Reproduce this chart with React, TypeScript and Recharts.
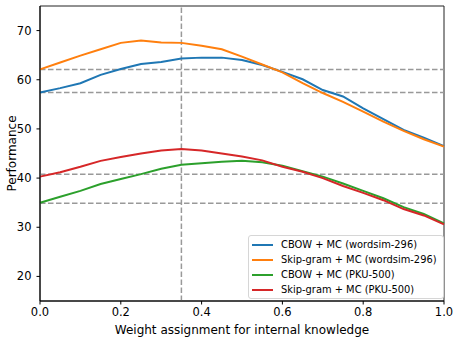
import React from "react";
import {
  LineChart,
  Line,
  XAxis,
  YAxis,
  ReferenceLine,
  ReferenceArea,
  Label,
} from "recharts";

const weights = [0, 0.05, 0.1, 0.15, 0.2, 0.25, 0.3, 0.35, 0.4, 0.45, 0.5, 0.55, 0.6, 0.65, 0.7, 0.75, 0.8, 0.85, 0.9, 0.95, 1.0];
const cbowWordsim = [57.4, 58.3, 59.3, 61.0, 62.2, 63.2, 63.6, 64.3, 64.5, 64.5, 64.0, 63.0, 61.6, 60.1, 57.9, 56.6, 54.2, 52.0, 49.8, 48.2, 46.5];
const skipWordsim = [62.1, 63.5, 64.9, 66.2, 67.5, 68.0, 67.6, 67.5, 66.9, 66.2, 64.7, 63.1, 61.5, 59.3, 57.3, 55.5, 53.5, 51.5, 49.6, 47.9, 46.4];
const cbowPku = [35.0, 36.2, 37.4, 38.8, 39.8, 40.8, 41.9, 42.7, 43.0, 43.3, 43.5, 43.2, 42.5, 41.4, 40.3, 38.9, 37.4, 35.9, 34.1, 32.7, 30.8];
const skipPku = [40.3, 41.2, 42.3, 43.5, 44.3, 45.0, 45.6, 45.9, 45.6, 45.0, 44.4, 43.6, 42.3, 41.3, 40.0, 38.4, 37.0, 35.5, 33.7, 32.4, 30.6];

const xTicks = [0, 0.2, 0.4, 0.6, 0.8, 1.0];
const yTicks = [20, 30, 40, 50, 60, 70];
const baselines = [62.1, 57.4, 40.8, 34.9];
const bestWeight = 0.35;

const series = [
  { key: "cbowWordsim", name: "CBOW + MC (wordsim-296)", color: "#1f77b4" },
  { key: "skipWordsim", name: "Skip-gram + MC (wordsim-296)", color: "#ff7f0e" },
  { key: "cbowPku", name: "CBOW + MC (PKU-500)", color: "#2ca02c" },
  { key: "skipPku", name: "Skip-gram + MC (PKU-500)", color: "#d62728" },
];

const data = weights.map((w, i) => ({
  w,
  cbowWordsim: cbowWordsim[i],
  skipWordsim: skipWordsim[i],
  cbowPku: cbowPku[i],
  skipPku: skipPku[i],
}));

const font = "'DejaVu Sans', sans-serif";

// legend drawn as an overlay so it doesn't eat plot space
function LegendBox() {
  return (
    <div
      style={{
        position: "absolute",
        left: 248,
        top: 235,
        width: 196,
        boxSizing: "border-box",
        background: "rgba(255,255,255,0.85)",
        border: "1px solid #d6d6d6",
        borderRadius: 3,
        padding: "1px 4px 1px 3px",
        fontFamily: font,
        fontSize: 9.9,
        color: "#000",
      }}
    >
      {series.map((s) => (
        <div key={s.key} style={{ display: "flex", alignItems: "center", height: 15 }}>
          <span style={{ display: "inline-block", width: 21, height: 2, background: s.color, marginRight: 8 }} />
          <span style={{ whiteSpace: "nowrap" }}>{s.name}</span>
        </div>
      ))}
    </div>
  );
}

export default function App() {
  return (
    <div style={{ position: "fixed", left: 0, top: 0, width: 457, height: 340, background: "#fff" }}>
      <LineChart width={457} height={340} data={data} margin={{ top: 6, right: 13, bottom: 0, left: 0 }}>
        <XAxis
          dataKey="w"
          type="number"
          domain={[0, 1]}
          ticks={xTicks}
          tickFormatter={(v: number) => v.toFixed(1)}
          height={39}
          tickSize={3.5}
          tickMargin={3}
          axisLine={{ stroke: "#000", strokeWidth: 1 }}
          tickLine={{ stroke: "#000" }}
          tick={{ fontSize: 11.5, fill: "#000", fontFamily: font }}
        >
          <Label
            value="Weight assignment for internal knowledge"
            position="insideBottom"
            offset={6}
            style={{ fontSize: 12, fill: "#000", fontFamily: font }}
          />
        </XAxis>
        <YAxis
          type="number"
          domain={[15, 75]}
          ticks={yTicks}
          width={40}
          tickSize={3.5}
          tickMargin={5}
          axisLine={{ stroke: "#000", strokeWidth: 1 }}
          tickLine={{ stroke: "#000" }}
          tick={{ fontSize: 11.5, fill: "#000", fontFamily: font }}
        >
          <Label
            value="Performance"
            angle={-90}
            position="insideLeft"
            offset={12}
            style={{ fontSize: 12, fill: "#000", fontFamily: font, textAnchor: "middle" }}
          />
        </YAxis>
        {baselines.map((b) => (
          <ReferenceLine key={b} y={b} stroke="#999" strokeWidth={1.5} strokeDasharray="5.5 2.5" />
        ))}
        <ReferenceLine x={bestWeight} stroke="#999" strokeWidth={1.5} strokeDasharray="5.5 2.5" />
        <ReferenceArea x1={0} x2={1} y1={15} y2={75} fill="none" stroke="#222" strokeWidth={1} />
        {series.map((s) => (
          <Line
            key={s.key}
            dataKey={s.key}
            name={s.name}
            stroke={s.color}
            strokeWidth={2}
            dot={false}
            type="linear"
            isAnimationActive={false}
          />
        ))}
      </LineChart>
      <LegendBox />
    </div>
  );
}
